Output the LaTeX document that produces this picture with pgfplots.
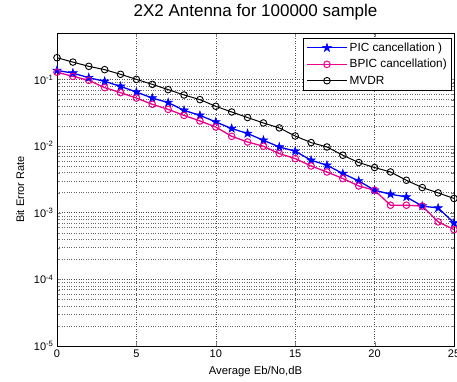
\documentclass[border=0pt]{standalone}
\usepackage{pgfplots}
\pgfplotsset{compat=1.18}
\usepackage{fontspec}
\setmainfont{Liberation Sans}
\pgfdeclareplotmark{pstar}{%
  \pgfpathmoveto{\pgfqpoint{0pt}{1\pgfplotmarksize}}%
  \pgfpathlineto{\pgfqpoint{-0.2245\pgfplotmarksize}{0.309\pgfplotmarksize}}%
  \pgfpathlineto{\pgfqpoint{-0.951\pgfplotmarksize}{0.309\pgfplotmarksize}}%
  \pgfpathlineto{\pgfqpoint{-0.363\pgfplotmarksize}{-0.118\pgfplotmarksize}}%
  \pgfpathlineto{\pgfqpoint{-0.588\pgfplotmarksize}{-0.809\pgfplotmarksize}}%
  \pgfpathlineto{\pgfqpoint{0pt}{-0.382\pgfplotmarksize}}%
  \pgfpathlineto{\pgfqpoint{0.588\pgfplotmarksize}{-0.809\pgfplotmarksize}}%
  \pgfpathlineto{\pgfqpoint{0.363\pgfplotmarksize}{-0.118\pgfplotmarksize}}%
  \pgfpathlineto{\pgfqpoint{0.951\pgfplotmarksize}{0.309\pgfplotmarksize}}%
  \pgfpathlineto{\pgfqpoint{0.2245\pgfplotmarksize}{0.309\pgfplotmarksize}}%
  \pgfpathclose
  \pgfusepathqfillstroke
}
\begin{document}
\begin{tikzpicture}
\begin{axis}[
  at={(57pt,35pt)}, anchor=south west,
  scale only axis, width=397pt, height=313pt,
  ymode=log, xmin=0, xmax=25, ymin=1e-5, ymax=0.5,
  xtick={0,5,10,15,20,25},
  ytick={1e-5,1e-4,1e-3,1e-2,1e-1},
  yticklabels={10\textsuperscript{-5},10\textsuperscript{-4},10\textsuperscript{-3},10\textsuperscript{-2},10\textsuperscript{-1}},
  /pgf/number format/assume math mode=true,
  tick label style={font=\fontsize{11}{13}\selectfont},
  tick align=inside,
  xmajorgrids, ymajorgrids, yminorgrids,
  major grid style={black!70, dotted, line width=0.6pt},
  minor grid style={black!60, dotted, line width=0.6pt},
  axis line style={black, line width=0.6pt},
  title={2X2 Antenna for 100000 sample},
  title style={at={(0.5,1)}, anchor=base, yshift=10.5pt, font=\fontsize{17}{19}\selectfont},
  xlabel={Average Eb/No,dB},
  xlabel style={at={(axis description cs:0.5,-0.083)}, anchor=center, font=\fontsize{11.3}{13}\selectfont},
  ylabel={Bit Error Rate},
  ylabel style={at={(axis description cs:-0.093,0.5)}, anchor=center, font=\fontsize{11}{13}\selectfont},
  legend style={at={(1,1)}, anchor=north east, xshift=-2pt, yshift=-5pt,
    font=\fontsize{11.8}{13}\selectfont, draw=black, line width=0.6pt,
    row sep=2.5pt, inner xsep=3pt, inner ysep=2.5pt},
  legend cell align=left,
  legend image code/.code={\draw[mark repeat=2,mark phase=2] plot coordinates {(0pt,0pt) (20pt,0pt) (40pt,0pt)};},
]
\addplot[blue, line width=1.3pt, mark=pstar, mark size=4.5pt, mark options={fill=blue, line width=0.5pt}] coordinates {
(0,0.137)(1,0.125)(2,0.1067)(3,0.094)(4,0.079)(5,0.065)(6,0.0528)(7,0.0451)(8,0.0345)(9,0.029)
(10,0.0231)(11,0.0184)(12,0.0155)(13,0.01226)(14,0.00973)(15,0.0084)(16,0.00615)(17,0.00518)
(18,0.00388)(19,0.00301)(20,0.00218)(21,0.0019)(22,0.00173)(23,0.00126)(24,0.00118)(25,0.000706)};
\addlegendentry{PIC cancellation )}
\addplot[magenta, line width=1.3pt, mark=o, mark size=3.3pt, mark options={line width=1pt}] coordinates {
(0,0.129)(1,0.1116)(2,0.0973)(3,0.0757)(4,0.0637)(5,0.0528)(6,0.0425)(7,0.0357)(8,0.029)(9,0.0239)
(10,0.0194)(11,0.01407)(12,0.01156)(13,0.00997)(14,0.00774)(15,0.00652)(16,0.00505)(17,0.0041)
(18,0.00327)(19,0.00253)(20,0.00218)(21,0.0013)(22,0.0013)(23,0.00126)(24,0.00073)(25,0.00056)};
\addlegendentry{BPIC cancellation)}
\addplot[black, line width=1pt, mark=o, mark size=3.3pt, mark options={line width=0.9pt}] coordinates {
(0,0.213)(1,0.183)(2,0.158)(3,0.141)(4,0.120)(5,0.1007)(6,0.0847)(7,0.0706)(8,0.0587)(9,0.050)
(10,0.0397)(11,0.0326)(12,0.0269)(13,0.0223)(14,0.0188)(15,0.01422)(16,0.01132)(17,0.00973)
(18,0.00731)(19,0.00568)(20,0.00478)(21,0.0041)(22,0.00308)(23,0.00239)(24,0.00199)(25,0.00164)};
\addlegendentry{MVDR}
\end{axis}
\pgfresetboundingbox
\useasboundingbox (0,0) rectangle (457pt,381pt);
\end{tikzpicture}
\end{document}
